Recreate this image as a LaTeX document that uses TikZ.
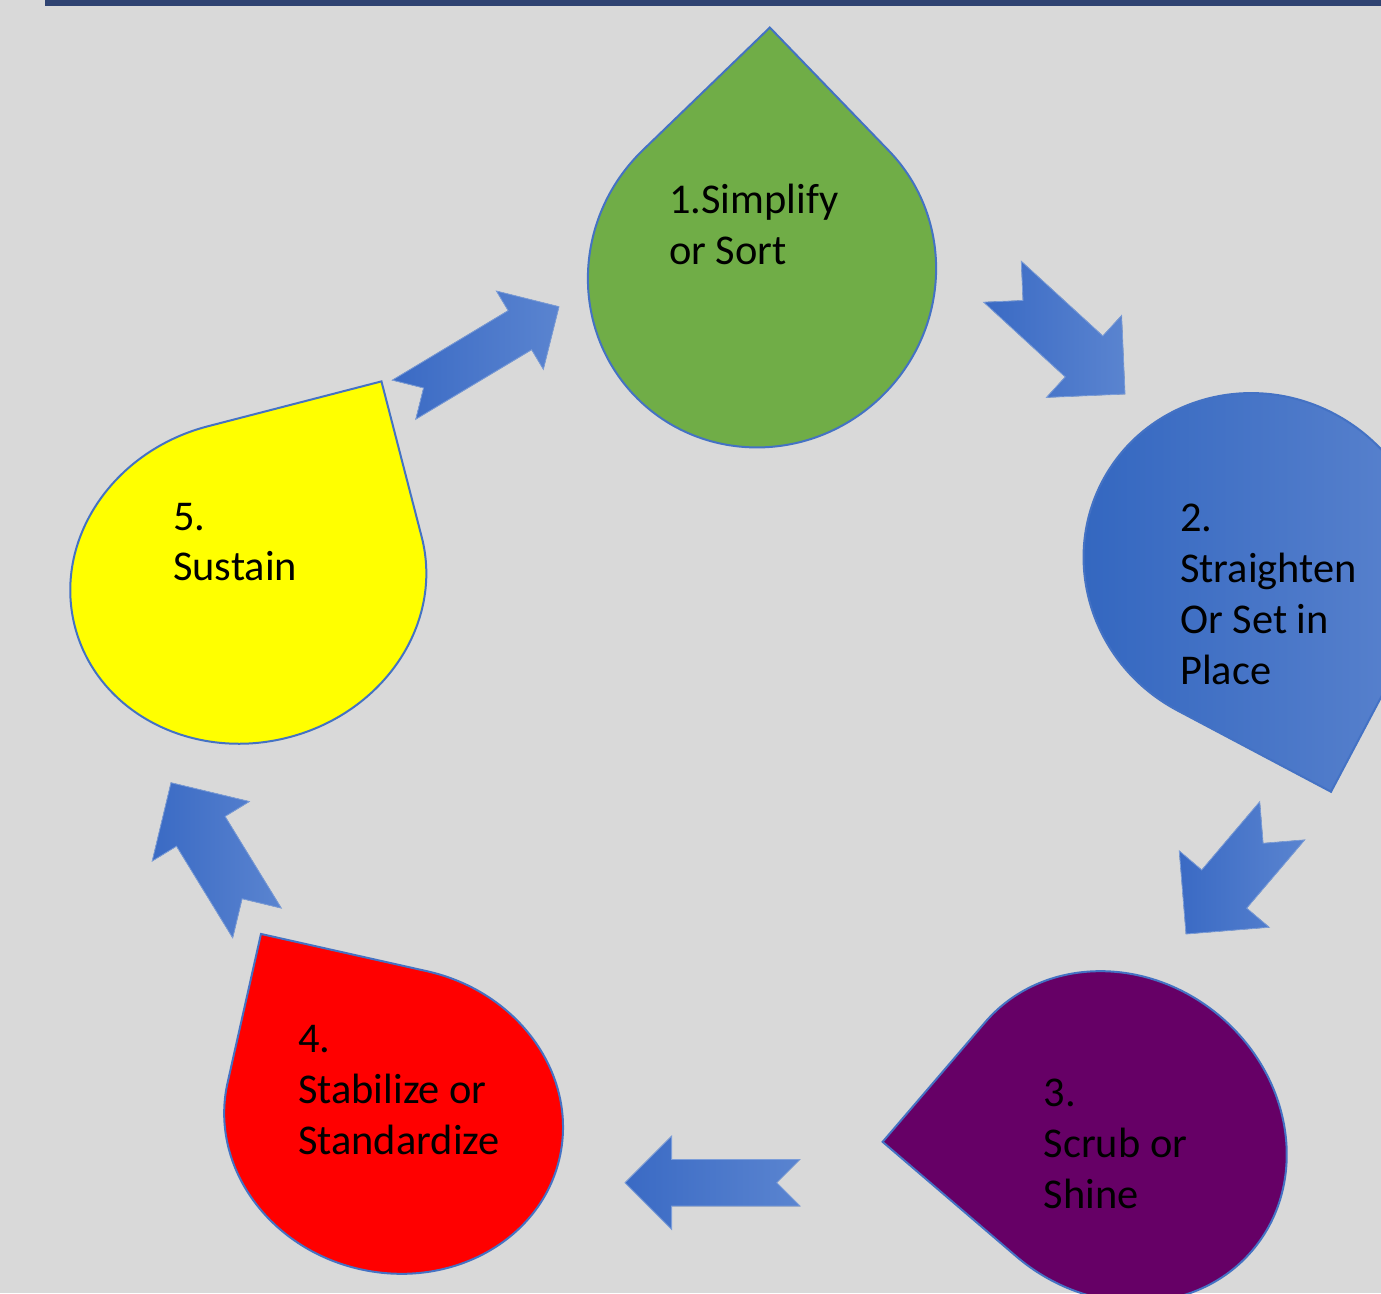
\documentclass[tikz,border=0pt]{standalone}
\usepackage{fontspec}
\setmainfont{Carlito}
\usetikzlibrary{calc}

\definecolor{bggray}{HTML}{D9D9D9}
\definecolor{barblue}{HTML}{2F4372}
\definecolor{dropline}{HTML}{4472C4}
\definecolor{sortgreen}{HTML}{70AD47}
\definecolor{placeA}{HTML}{3165BF}
\definecolor{placeB}{HTML}{5D85CF}
\definecolor{shinepurple}{HTML}{660066}
\definecolor{stdred}{HTML}{FF0000}
\definecolor{sustyellow}{HTML}{FFFF00}
\definecolor{arrowA}{HTML}{3A6AC4}
\definecolor{arrowB}{HTML}{5A84D0}

\tikzset{
  drop/.style={draw=dropline, line width=2pt, line join=miter},
  droptext/.style={anchor=base west, align=left, inner sep=0pt,
    font=\fontsize{42.4}{50.7}\selectfont},
  arrowfill/.style={left color=arrowA, right color=arrowB, draw=arrowB!80!white, line width=0.8pt}
}

% teardrop: centre, rotation, x radius, y radius, fill
\newcommand{\teardrop}[5]{%
  \begin{scope}[shift={#1}, rotate=#2]
    \draw[drop, #5] (#3,#4) -- (0,#4)
      arc[start angle=90, end angle=360, x radius=#3, y radius=#4] -- cycle;
  \end{scope}}

% notched block arrow: tail, tip, half body width
\newcommand{\blockarrow}[3]{%
  \filldraw[arrowfill] ($(#1)!#3!90:(#2)$)
    -- ($(#2)!2*#3!(#1)!#3!90:(#2)$)
    -- ($(#2)!2*#3!(#1)!2*#3!90:(#2)$)
    -- (#2)
    -- ($(#2)!2*#3!(#1)!2*#3!-90:(#2)$)
    -- ($(#2)!2*#3!(#1)!#3!-90:(#2)$)
    -- ($(#1)!#3!-90:(#2)$)
    -- ($(#1)!#3!(#2)$) -- cycle;}

\begin{document}
\begin{tikzpicture}[x=1pt, y=-1pt]
\useasboundingbox (0,0) rectangle (1381,1293);
\clip (0,0) rectangle (1381,1293);
\fill[bggray] (0,0) rectangle (1381,1293);
\fill[barblue] (45,0) rectangle (1381,5.7);

% the five drops
\teardrop{(762,273.5)}{134.0}{171.5}{176.5}{fill=sortgreen}
\teardrop{(1256,562.2)}{-27.9}{173.7}{167.8}{left color=placeA, right color=placeB}
\teardrop{(1118.5,1136.6)}{-130.6}{157.5}{175.7}{fill=shinepurple}
\teardrop{(393.6,1120.2)}{167.35}{170.2}{152.7}{fill=stdred}
\teardrop{(248.3,581.8)}{104.5}{160.7}{179.1}{fill=sustyellow}

% texts, placed at the baseline of their last line
\node[droptext] (sort) at (669,264.3) {1.Simplify\\or Sort};
\node[droptext] (place) at (1180,684) {2.\\Straighten\\Or Set in\\Place};
\node[droptext] (shine) at (1043.5,1208.3) {3.\\Scrub or\\Shine};
\node[droptext] (standard) at (298,1154.3) {4.\\Stabilize or\\Standardize};
\node[droptext] (sustain) at (173,580.7) {5.\\Sustain};

% arrows between the drops
\coordinate (a1s) at (1002.5,281.7); \coordinate (a1e) at (1125,394);
\coordinate (a2s) at (1282.2,820.8); \coordinate (a2e) at (1186,934);
\coordinate (a3s) at (800,1182.7);   \coordinate (a3e) at (625,1182.7);
\coordinate (a4s) at (257,923);      \coordinate (a4e) at (171,782.7);
\coordinate (a5s) at (404,399.7);    \coordinate (a5e) at (559,306.7);
\blockarrow{a1s}{a1e}{27.8pt}
\blockarrow{a2s}{a2e}{29.5pt}
\blockarrow{a3s}{a3e}{23.3pt}
\blockarrow{a4s}{a4e}{28.5pt}
\blockarrow{a5s}{a5e}{22.8pt}
\end{tikzpicture}
\end{document}
